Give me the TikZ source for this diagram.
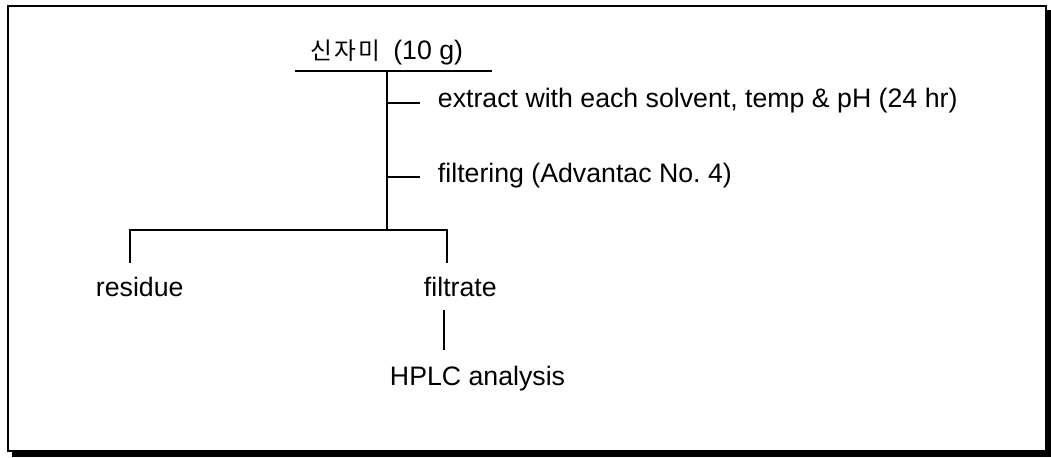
\documentclass[tikz,border=0pt]{standalone}
\usepackage{fontspec}
\setmainfont{Liberation Sans}
\newfontfamily\cjk{Noto Sans CJK KR}
\usetikzlibrary{positioning}
\frenchspacing

\begin{document}
\begin{tikzpicture}[x=0.02cm,y=-0.02cm, line width=1.1pt,
    txt/.style={inner sep=0pt, anchor=base west, font=\fontsize{15.2}{18}\selectfont}]
    \useasboundingbox (0,0) rectangle (1051,457);

    % frame with shadow
    \fill (12,10) rectangle (1051,457);
    \draw [fill=white, line width=1.2pt] (8,6) rectangle (1046,451);

    \coordinate (bar left) at (295,71);
    \coordinate (bar right) at (492,71);
    \coordinate (stem top) at (387,71);
    \coordinate (stem bot) at (387,230);
    \coordinate (tick1) at (420,103);
    \coordinate (tick2) at (420,177);
    \coordinate (res top) at (130,263);
    \coordinate (fil top) at (447,263);
    \coordinate (an top) at (444,310);
    \coordinate (an bot) at (444,350);

    \node[txt] (sample) at (310,59) {{\cjk\fontsize{13.5}{16}\selectfont 신\kern1.2pt 자\kern1.2pt 미}\kern3pt\ (10 g)};
    \node[txt] (extract) at (437,107) {extract with each solvent, temp \& pH (24 hr)};
    \node[txt] (filter) at (437,182) {filtering (Advantac No. 4)};
    \node[txt] (residue) at (95,296) {residue};
    \node[txt] (filtrate) at (423,296) {filtrate};
    \node[txt] (hplc) at (389,385) {HPLC analysis};

    \draw (bar left) -- (bar right);
    \draw (stem top) -- (stem bot);
    \draw (stem top |- tick1) -- (tick1);
    \draw (stem top |- tick2) -- (tick2);
    \draw (res top) |- (stem bot) -| (fil top);
    \draw (an top) -- (an bot);
\end{tikzpicture}
\end{document}
